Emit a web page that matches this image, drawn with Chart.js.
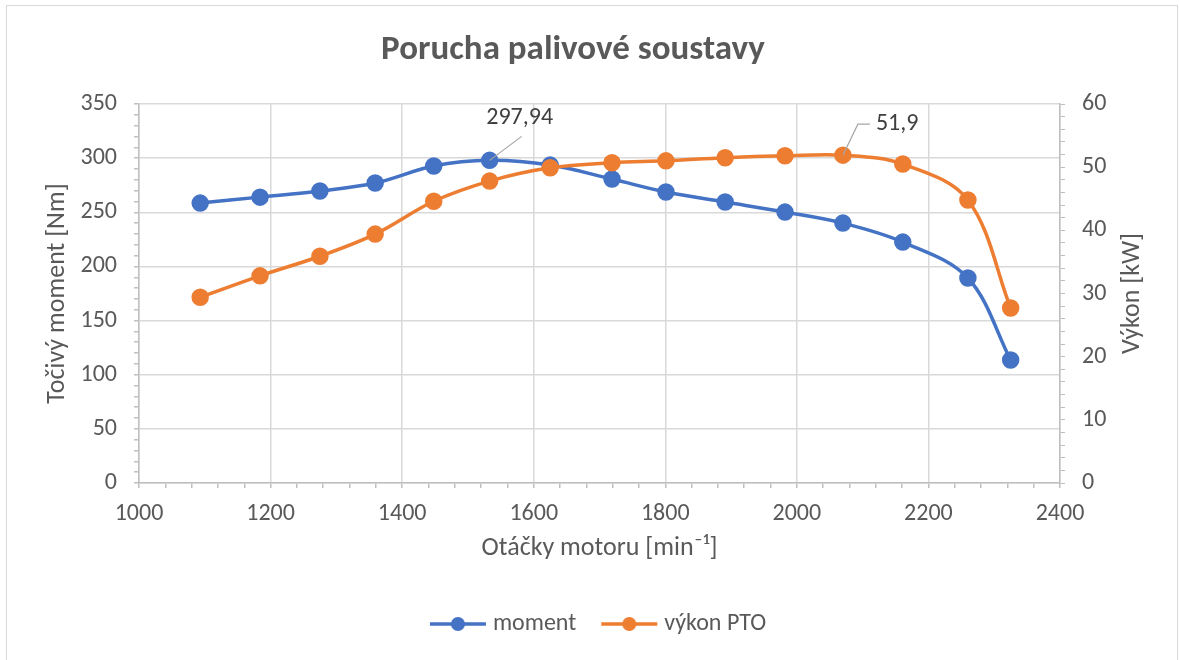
<!DOCTYPE html>
<html>
<head>
<meta charset="utf-8">
<script src="https://cdn.jsdelivr.net/npm/chart.js@4"></script>
<style>
  html, body { margin: 0; padding: 0; background: #fff; }
  #wrap { width: 1179px; height: 660px; }
</style>
</head>
<body>
<div id="wrap"><canvas id="chart" width="1179" height="660"></canvas></div>
<script>
// engine speed [min-1]
const rpm = [1093, 1184, 1275, 1359, 1448, 1533, 1625, 1719, 1801, 1891, 1982, 2070, 2161, 2260, 2325];
// torque [Nm]
const moment = [258.5, 264, 269.6, 277, 292.7, 297.94, 293.6, 280.7, 268.7, 259.5, 250.2, 240, 222.5, 189.3, 113.6];
// power [kW]
const vykon = [29.4, 32.8, 35.9, 39.4, 44.6, 47.8, 49.9, 50.7, 51.0, 51.5, 51.8, 51.9, 50.5, 44.8, 27.7];

const BLUE = '#4472C4';
const ORANGE = '#ED7D31';
const TEXT = '#595959';
const GRID = '#D9D9D9';
const AXIS = '#BFBFBF';
const FONT = 'Carlito, Lato, sans-serif';

function legendIcon(color) {
    const c = document.createElement('canvas');
    c.width = 58; c.height = 16;
    const g = c.getContext('2d');
    g.strokeStyle = color;
    g.lineWidth = 3.5;
    g.beginPath(); g.moveTo(1, 8); g.lineTo(57, 8); g.stroke();
    g.fillStyle = color;
    g.beginPath(); g.arc(29, 8, 7, 0, Math.PI * 2); g.fill();
    return c;
}

// labels with leader lines (297,94 and 51,9)
const callouts = [
    { ds: 0, idx: 5, text: String(moment[5]).replace('.', ','), path: [[32, -24]], tx: 30, ty: -42 },
    { ds: 1, idx: 11, text: String(vykon[11]).replace('.', ','), path: [[15, -31], [27, -31]], tx: 33, ty: -31, left: true }
];

const calloutPlugin = {
    id: 'callouts',
    afterDatasetsDraw(chart) {
        const ctx = chart.ctx;
        ctx.save();
        callouts.forEach(c => {
            const pt = chart.getDatasetMeta(c.ds).data[c.idx];
            ctx.strokeStyle = '#A6A6A6';
            ctx.lineWidth = 1.2;
            ctx.beginPath();
            ctx.moveTo(pt.x, pt.y);
            c.path.forEach(p => ctx.lineTo(pt.x + p[0], pt.y + p[1]));
            ctx.stroke();
            ctx.fillStyle = '#404040';
            ctx.font = '24px ' + FONT;
            ctx.textBaseline = 'middle';
            ctx.textAlign = c.left ? 'left' : 'center';
            ctx.fillText(c.text, pt.x + c.tx, pt.y + c.ty);
        });
        ctx.restore();
    }
};

// chart title (sits a bit left of centre, like the original) and the
// right axis title, which reads bottom-to-top like the left one
const textPlugin = {
    id: 'texts',
    afterDraw(chart) {
        const ctx = chart.ctx;
        ctx.save();
        ctx.fillStyle = TEXT;
        ctx.textAlign = 'center';
        ctx.textBaseline = 'middle';
        ctx.font = 'bold 35px ' + FONT;
        ctx.fillText('Porucha palivové soustavy', 573, 50);
        ctx.translate(1132, (chart.chartArea.top + chart.chartArea.bottom) / 2);
        ctx.rotate(-Math.PI / 2);
        ctx.font = '26px ' + FONT;
        ctx.fillText('Výkon [kW]', 0, 0);
        ctx.restore();
    }
};

const framePlugin = {
    id: 'frame',
    beforeDraw(chart) {
        const ctx = chart.ctx;
        ctx.save();
        ctx.fillStyle = '#fff';
        ctx.fillRect(0, 0, chart.width, chart.height);
        ctx.strokeStyle = GRID;
        ctx.lineWidth = 1;
        ctx.strokeRect(6.5, 5.5, 1171, 700);
        ctx.restore();
    }
};

new Chart(document.getElementById('chart').getContext('2d'), {
    type: 'line',
    data: {
        datasets: [{
            label: 'moment',
            data: rpm.map((x, i) => ({ x: x, y: moment[i] })),
            borderColor: BLUE,
            backgroundColor: BLUE,
            pointBackgroundColor: BLUE,
            pointBorderColor: BLUE,
            borderWidth: 3.5,
            pointRadius: 7,
            tension: 0.35,
            yAxisID: 'y',
            order: 1
        }, {
            label: 'výkon PTO',
            data: rpm.map((x, i) => ({ x: x, y: vykon[i] })),
            borderColor: ORANGE,
            backgroundColor: ORANGE,
            pointBackgroundColor: ORANGE,
            pointBorderColor: ORANGE,
            borderWidth: 3.5,
            pointRadius: 7,
            tension: 0.35,
            yAxisID: 'y1',
            order: 0
        }]
    },
    options: {
        responsive: false,
        animation: false,
        layout: { padding: { top: 104, left: 22, right: 0, bottom: 14 } },
        plugins: {
            tooltip: { enabled: false },
            title: { display: false },
            legend: {
                position: 'bottom',
                labels: {
                    color: TEXT,
                    font: { family: FONT, size: 24 },
                    usePointStyle: true,
                    pointStyleWidth: 46,
                    boxHeight: 16,
                    padding: 30,
                    sort: (a, b) => a.datasetIndex - b.datasetIndex,
                    generateLabels(chart) {
                        return chart.data.datasets.map((d, i) => ({
                            text: d.label,
                            datasetIndex: i,
                            pointStyle: legendIcon(d.borderColor),
                            fillStyle: d.borderColor,
                            strokeStyle: d.borderColor,
                            lineWidth: 0,
                            fontColor: TEXT,
                            hidden: false
                        }));
                    }
                }
            }
        },
        scales: {
            x: {
                type: 'linear',
                min: 1000,
                max: 2400,
                afterFit(s) { s.height = 99; },
                ticks: {
                    stepSize: 40,
                    autoSkip: false,
                    maxRotation: 0,
                    color: TEXT,
                    padding: 12,
                    font: { family: FONT, size: 24 },
                    callback: v => (v % 200 === 0 ? v : '')
                },
                grid: {
                    color: c => (c.tick && c.tick.value % 200 === 0 ? GRID : 'rgba(0,0,0,0)'),
                    tickColor: AXIS,
                    tickLength: 5,
                    lineWidth: 1.5
                },
                border: { color: AXIS, width: 1.5 },
                title: {
                    display: true,
                    text: 'Otáčky motoru [min⁻¹]',
                    color: TEXT,
                    font: { family: FONT, size: 26 },
                    padding: { top: 0, bottom: 18 }
                }
            },
            y: {
                position: 'left',
                min: 0,
                max: 350,
                afterFit(s) { s.width = 117; },
                ticks: {
                    stepSize: 10,
                    autoSkip: false,
                    color: TEXT,
                    padding: 17,
                    font: { family: FONT, size: 24 },
                    callback: v => (v % 50 === 0 ? v : '')
                },
                grid: {
                    color: c => (c.tick && c.tick.value % 50 === 0 ? GRID : 'rgba(0,0,0,0)'),
                    tickColor: AXIS,
                    tickLength: 5,
                    lineWidth: 1.5
                },
                border: { color: AXIS, width: 1.5 },
                title: {
                    display: true,
                    text: 'Točivý moment [Nm]',
                    color: TEXT,
                    font: { family: FONT, size: 26 },
                    padding: { top: 20, bottom: 0 }
                }
            },
            y1: {
                position: 'right',
                min: 0,
                max: 60,
                afterFit(s) { s.width = 119; },
                ticks: {
                    stepSize: 2,
                    autoSkip: false,
                    color: TEXT,
                    padding: 17,
                    font: { family: FONT, size: 24 },
                    callback: v => (v % 10 === 0 ? v : '')
                },
                grid: {
                    drawOnChartArea: false,
                    tickColor: AXIS,
                    tickLength: 5
                },
                border: { color: AXIS, width: 1.5 },
                title: { display: false }
            }
        }
    },
    plugins: [framePlugin, calloutPlugin, textPlugin]
});
</script>
</body>
</html>
